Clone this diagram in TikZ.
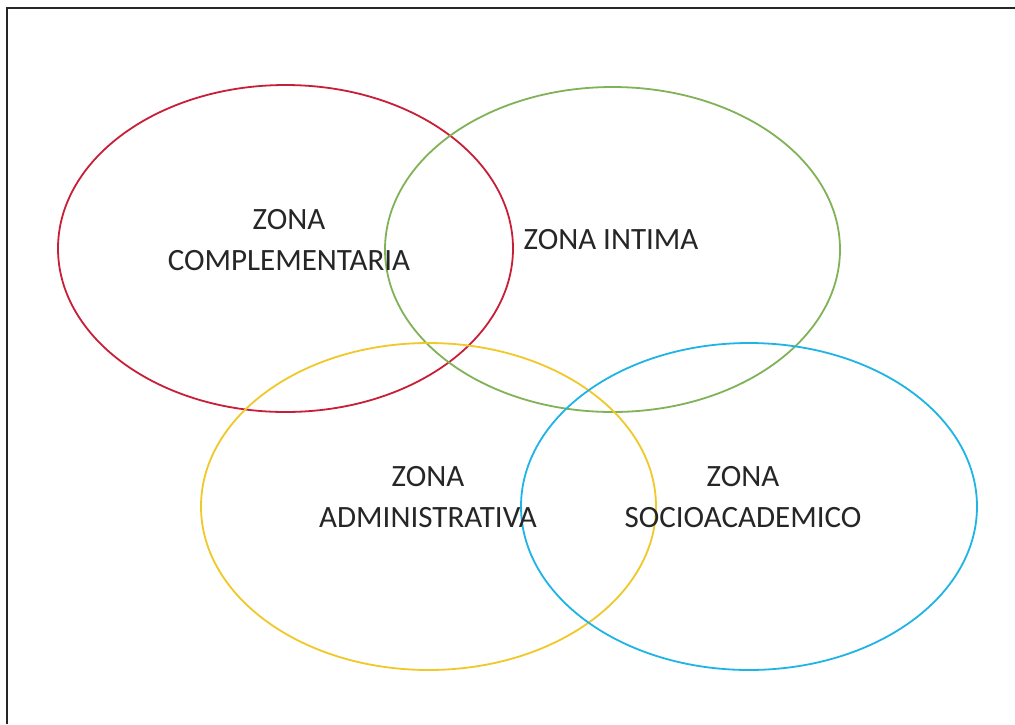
\documentclass[tikz,border=0pt]{standalone}
\usepackage{fontspec}
\setmainfont{Carlito}
\begin{document}
\begin{tikzpicture}[x=1pt,y=-1pt,
  zone/.style={line width=1.8pt},
  lbl/.style={font=\fontsize{31}{41}\selectfont, align=center, text=black!85, inner sep=0pt}]
\useasboundingbox (0,0) rectangle (1015,724);
\fill[white] (0,0) rectangle (1015,724);
\draw[line width=2.2pt, black!85] (7,724) coordinate (bl) -- (7,8) coordinate (tl) -- (1015,8) coordinate (tr);
\definecolor{zred}{RGB}{200,30,55}
\definecolor{zgreen}{RGB}{128,178,88}
\definecolor{zyellow}{RGB}{240,200,40}
\definecolor{zblue}{RGB}{30,180,230}
\draw[zone, zred] (285.5,248.5) ellipse [x radius=227.5, y radius=163.5];
\draw[zone, zgreen] (612.5,249.5) ellipse [x radius=227.5, y radius=162.5];
\draw[zone, zyellow] (428.5,506.5) ellipse [x radius=227.5, y radius=163.5];
\draw[zone, zblue] (749,506.5) ellipse [x radius=228, y radius=163.5];
\node[lbl] (comp) at (289,240) {ZONA\\COMPLEMENTARIA};
\node[lbl] (intima) at (611,240) {ZONA INTIMA};
\node[lbl] (admin) at (428,497) {ZONA\\ADMINISTRATIVA};
\node[lbl] (socio) at (743,497) {ZONA\\SOCIOACADEMICO};
\end{tikzpicture}
\end{document}
